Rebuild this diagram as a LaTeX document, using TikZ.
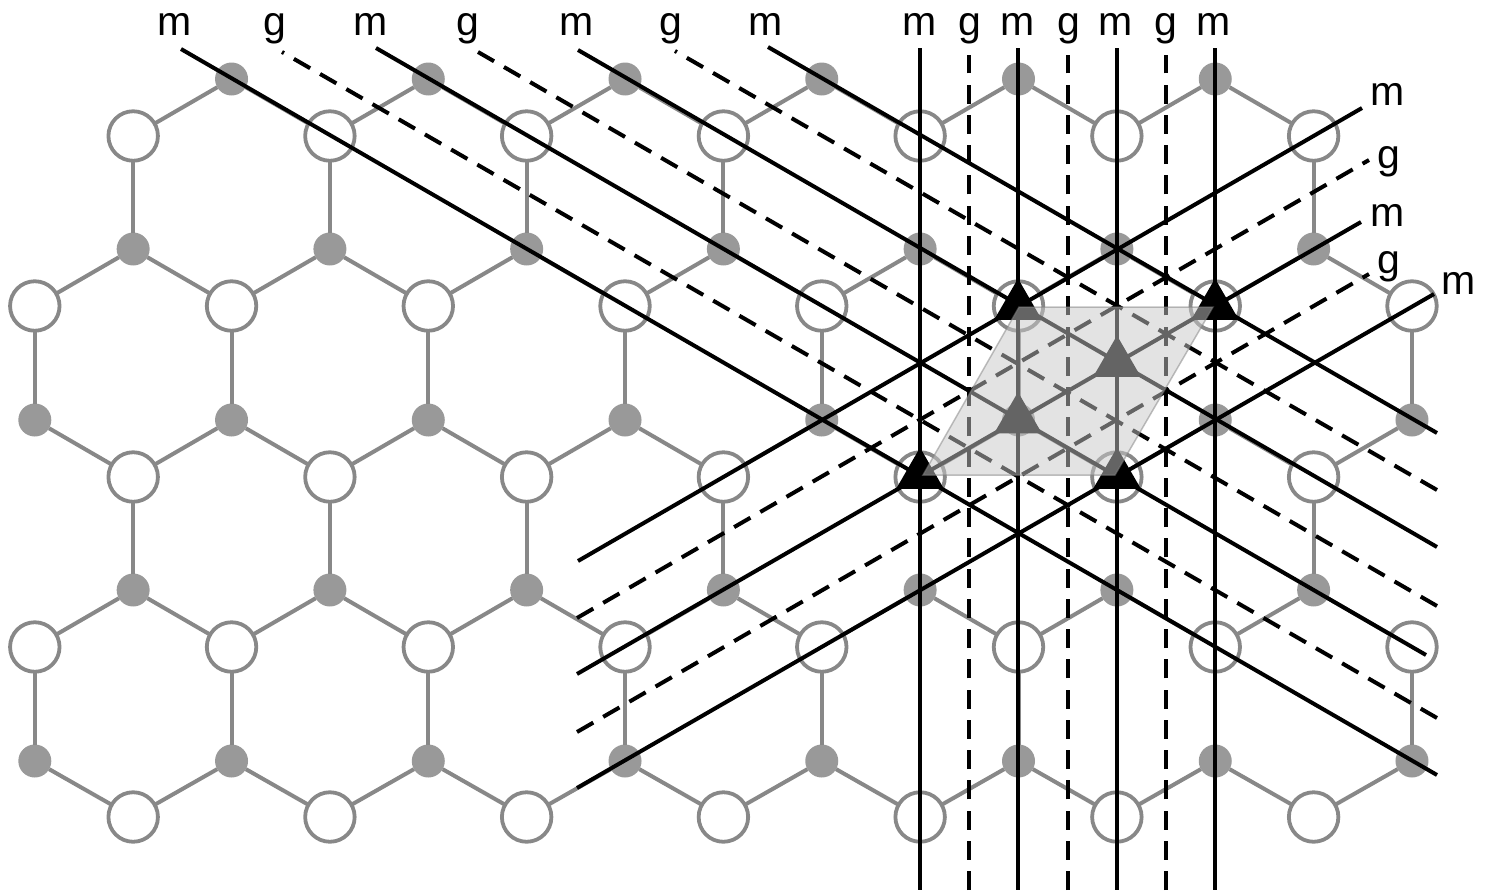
\documentclass[tikz,border=0pt]{standalone}
\usepackage{fontspec}
\setmainfont{Liberation Sans}
\usetikzlibrary{shapes.geometric}
\definecolor{bondgray}{HTML}{888888}
\definecolor{dotgray}{HTML}{999999}
\definecolor{cellgray}{HTML}{C8C8C8}
\tikzset{
  bond/.style={draw=bondgray,line width=4pt},
  opensite/.style={circle,draw=bondgray,line width=3.8pt,fill=white,minimum size=49.5pt,inner sep=0pt,outer sep=0pt},
  dotsite/.style={circle,fill=dotgray,minimum size=33pt,inner sep=0pt,outer sep=0pt},
  mirrorline/.style={draw=black,line width=4pt},
  glideline/.style={draw=black,line width=4pt,dash pattern=on 18.8pt off 11.45pt},
  axis/.style={regular polygon,regular polygon sides=3,fill=black,minimum size=55pt,inner sep=0pt,outer sep=0pt},
  cell/.style={fill=cellgray,draw=gray,line width=1.5pt,opacity=0.5},
  lab/.style={font=\fontsize{41}{48}\selectfont,anchor=base,inner sep=0pt}
}
\newcommand{\lx}[1]{34.8+98.37*#1}
\begin{document}
\begin{tikzpicture}[x=1pt,y=-1pt]
\useasboundingbox (0,0) rectangle (1494,894);
% lattice sites
\foreach \r/\y in {B/136,F/477,J/817}{
  \foreach \k in {1,3,...,13}{\node[opensite] (\r-\k) at ({\lx{\k}},\y) {};}}
\foreach \r/\y in {D/306,H/647}{
  \foreach \k in {0,2,...,14}{\node[opensite] (\r-\k) at ({\lx{\k}},\y) {};}}
\foreach \k in {2,4,...,12}{\node[dotsite] (A-\k) at ({\lx{\k}},79) {};}
\foreach \r/\y in {C/249,G/590}{
  \foreach \k in {1,3,...,13}{\node[dotsite] (\r-\k) at ({\lx{\k}},\y) {};}}
\foreach \r/\y in {E/420,I/761}{
  \foreach \k in {0,2,...,14}{\node[dotsite] (\r-\k) at ({\lx{\k}},\y) {};}}
% bonds
\foreach \k [evaluate=\k as \a using int(\k-1),evaluate=\k as \b using int(\k+1)] in {2,4,...,12}{
  \draw[bond] (A-\k) -- (B-\a);
  \draw[bond] (A-\k) -- (B-\b);}
\foreach \p/\q in {C/D,F/E,G/H,J/I}{
  \foreach \k [evaluate=\k as \a using int(\k-1),evaluate=\k as \b using int(\k+1)] in {1,3,...,13}{
    \draw[bond] (\p-\k) -- (\q-\a);
    \draw[bond] (\p-\k) -- (\q-\b);}}
\foreach \p/\q in {B/C,F/G}{
  \foreach \k in {1,3,...,13}{\draw[bond] (\p-\k) -- (\q-\k);}}
\foreach \p/\q in {D/E,H/I}{
  \foreach \k in {0,2,...,14}{\draw[bond] (\p-\k) -- (\q-\k);}}
% solid mirror lines
\foreach \n/\xa/\ya/\xb/\yb in {
  ma/181/49/1437/775, mb/376/48/1426/655, mc/578/50/1437/547, md/768/47/1437/433,
  me/578/561/1362/108, mf/577/674/1361/222, mg/577/788/1434/294,
  mh/919.8/48/919.8/890, mi/1018.3/48/1018.3/890, mj/1116.7/48/1116.7/890, mk/1215/48/1215/890}{
  \coordinate (\n a) at (\xa,\ya);
  \coordinate (\n b) at (\xb,\yb);
  \draw[mirrorline] (\n a) -- (\n b);}
% glide lines
\foreach \n/\xa/\ya/\xb/\yb in {
  ga/1437/718/282/52, gb/1437/606/478/52, gc/1437/490/675/51,
  gd/577/618/1369/160, ge/577/732/1369/274,
  gf/969.3/890/969.3/55, gg/1067.7/890/1067.7/55, gh/1166/890/1166/55}{
  \coordinate (\n a) at (\xa,\ya);
  \coordinate (\n b) at (\xb,\yb);
  \draw[glideline] (\n a) -- (\n b);}
% rotation axes
\node[axis] (t1) at (920,475) {};
\node[axis] (t2) at (1117,475) {};
\node[axis] (t3) at (1018,306) {};
\node[axis] (t4) at (1215,306) {};
\node[axis] (t5) at (1018,419.5) {};
\node[axis] (t6) at (1117,363) {};
% unit cell
\coordinate (c1) at (923,475);
\coordinate (c2) at (1115,475);
\coordinate (c3) at (1213,307);
\coordinate (c4) at (1019,307);
\path[cell] (c1) -- (c2) -- (c3) -- (c4) -- cycle;
% labels
\foreach \n/\t/\x in {a/m/175,b/g/275,c/m/371,d/g/468,e/m/577,f/g/671,g/m/766,
  h/m/920,i/g/970,j/m/1018,k/g/1069,l/m/1116,o/g/1166,p/m/1214}{
  \node[lab] (lt\n) at (\x,35) {\t};}
\foreach \n/\t/\x/\y in {a/m/1388/105,b/g/1389/168,c/m/1388/226,d/g/1389/273,e/m/1459/294}{
  \node[lab] (lr\n) at (\x,\y) {\t};}
\end{tikzpicture}
\end{document}
